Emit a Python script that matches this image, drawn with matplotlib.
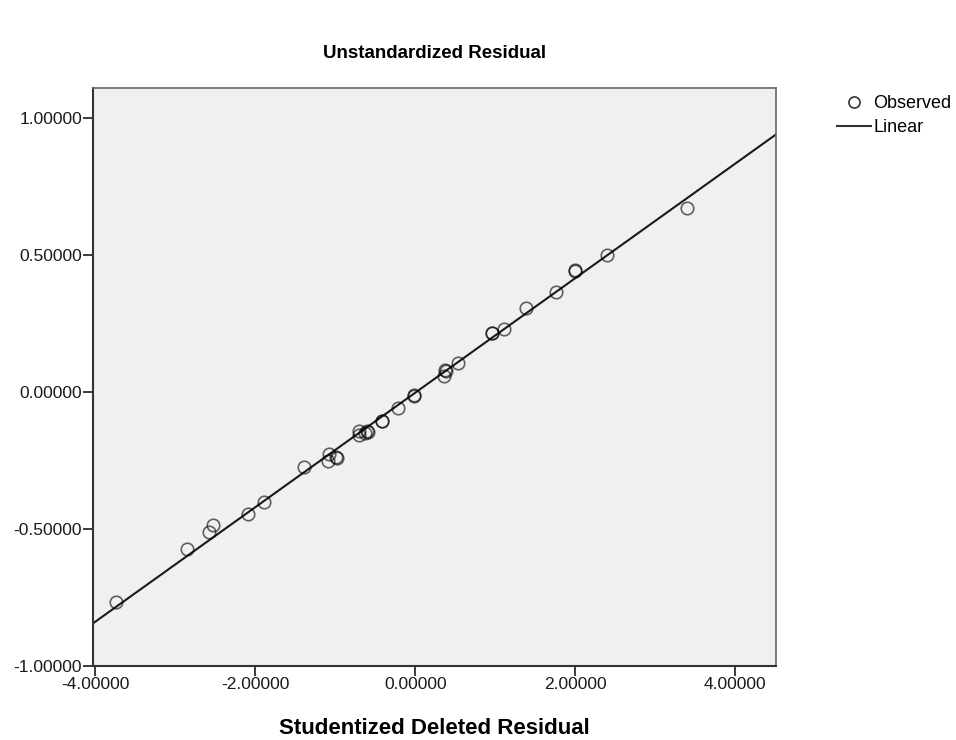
import numpy as np
import matplotlib
matplotlib.use("Agg")
import matplotlib.pyplot as plt
from matplotlib.lines import Line2D

plt.rcParams['font.family'] = ['Liberation Sans', 'DejaVu Sans']

# studentized deleted residual (x) vs unstandardized residual (y)
sdr = [-3.74, -2.85, -2.575, -2.535, -2.09, -1.89, -1.39,
       -1.085, -1.09, -0.99, -0.985, -0.71, -0.71, -0.60, -0.595, -0.63,
       -0.42, -0.415, -0.22, -0.02, -0.015, 0.36, 0.375, 0.38, 0.53,
       0.955, 0.96, 1.105, 1.39, 1.76, 2.0, 2.0, 2.395, 3.40]
ures = [-0.766, -0.573, -0.512, -0.484, -0.445, -0.403, -0.273,
        -0.227, -0.251, -0.238, -0.240, -0.141, -0.157, -0.141, -0.145, -0.150,
        -0.106, -0.104, -0.058, -0.011, -0.014, 0.060, 0.080, 0.078, 0.107,
        0.214, 0.216, 0.232, 0.308, 0.366, 0.442, 0.444, 0.500, 0.672]

# linear fit line as drawn
fit_slope = 0.209
fit_intercept = -0.002

x_ticks = [-4, -2, 0, 2, 4]
y_ticks = [-1.0, -0.5, 0.0, 0.5, 1.0]

fig = plt.figure(figsize=(9.56, 7.4), dpi=100)
ax = fig.add_axes([0.0973, 0.100, 0.7144, 0.781])
ax.set_facecolor('#f0f0f0')

xl = np.array([-4.03, 4.51])
ax.plot(xl, fit_intercept + fit_slope * xl, color='#1a1a1a', lw=1.5, zorder=2)
ax.plot(sdr, ures, 'o', ms=9, mfc='none', mec=(0, 0, 0, 0.6), mew=1.2, zorder=3)

ax.set_xlim(-4.03, 4.51)
ax.set_ylim(-1.0, 1.11)
ax.set_xticks(x_ticks)
ax.set_yticks(y_ticks)
ax.set_xticklabels(['%.5f' % v for v in x_ticks])
ax.set_yticklabels(['%.5f' % v for v in y_ticks])
ax.tick_params(direction='out', length=7, width=1.2, pad=1, labelsize=12.5, colors='#1a1a1a')

for s in ['left', 'bottom']:
    ax.spines[s].set_color('#333333')
    ax.spines[s].set_linewidth(1.5)
for s in ['top', 'right']:
    ax.spines[s].set_color('#666666')
    ax.spines[s].set_linewidth(1.2)

ax.set_xlabel('Studentized Deleted Residual', fontsize=16, fontweight='bold', labelpad=19)
fig.text(0.455, 0.928, 'Unstandardized Residual', fontsize=13.5, fontweight='bold', ha='center', va='center')

handles = [Line2D([], [], marker='o', ls='none', ms=8, mfc='none', mec='#333333', mew=1.2),
           Line2D([], [], color='#333333', lw=1.5)]
fig.legend(handles, ['Observed', 'Linear'], loc='upper left', bbox_to_anchor=(0.866, 0.884),
           frameon=False, fontsize=13, handlelength=1.9, handletextpad=0.1,
           labelspacing=0.4, borderpad=0)

fig.savefig('out.png', dpi=100)
